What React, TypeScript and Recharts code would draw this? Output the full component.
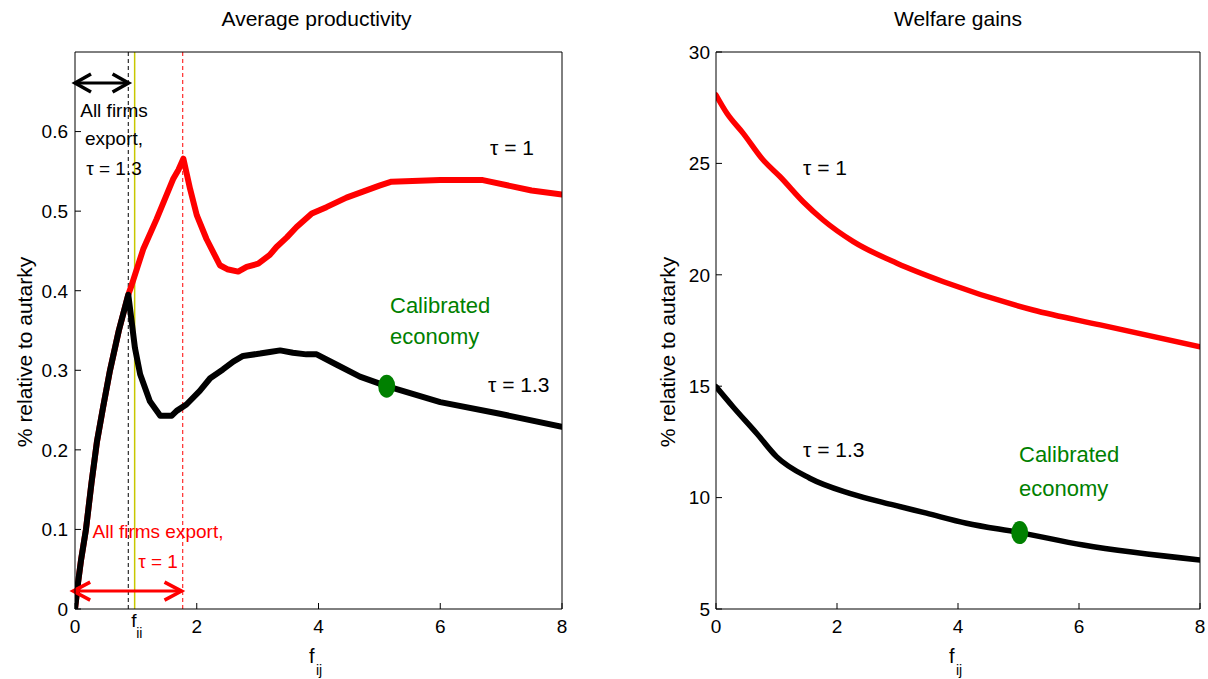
import React from 'react';
import { LineChart, Line, XAxis, YAxis, ReferenceLine, ReferenceDot } from 'recharts';

const FONT = '"Liberation Sans", Arial, Helvetica, sans-serif';
const GREEN = '#008000';

// ---------- Left panel: Average productivity ----------
const prodTau1X = [0, 0.05, 0.1, 0.18, 0.27, 0.36, 0.46, 0.575, 0.72, 0.875, 0.93, 1.12, 1.34, 1.61, 1.7, 1.78, 1.89, 2.0, 2.16, 2.38, 2.5, 2.68, 2.82, 3.01, 3.2, 3.31, 3.48, 3.64, 3.89, 4.13, 4.46, 5.0, 5.2, 6.0, 6.7, 7.5, 8.0];
const prodTau1Y = [0, 0.033, 0.062, 0.1, 0.158, 0.21, 0.253, 0.3, 0.35, 0.395, 0.407, 0.452, 0.49, 0.54, 0.552, 0.566, 0.528, 0.495, 0.465, 0.432, 0.427, 0.424, 0.43, 0.434, 0.445, 0.455, 0.467, 0.48, 0.497, 0.505, 0.517, 0.532, 0.537, 0.539, 0.539, 0.526, 0.521];
const prodTau13X = [0, 0.05, 0.1, 0.18, 0.27, 0.36, 0.46, 0.575, 0.72, 0.875, 0.985, 1.07, 1.23, 1.4, 1.59, 1.67, 1.83, 2.05, 2.22, 2.43, 2.6, 2.76, 3.04, 3.2, 3.37, 3.58, 3.8, 3.97, 4.3, 4.68, 5.12, 6.0, 7.0, 8.0];
const prodTau13Y = [0, 0.033, 0.062, 0.1, 0.158, 0.21, 0.253, 0.3, 0.35, 0.395, 0.328, 0.295, 0.261, 0.243, 0.243, 0.249, 0.257, 0.274, 0.29, 0.301, 0.311, 0.318, 0.321, 0.323, 0.325, 0.322, 0.32, 0.32, 0.307, 0.292, 0.28, 0.26, 0.245, 0.229];
const prodXTicks = [0, 2, 4, 6, 8];
const prodYTicks = [0, 0.1, 0.2, 0.3, 0.4, 0.5, 0.6];
const F_II = 0.98;
const ALL_EXPORT_TAU13 = 0.875;
const ALL_EXPORT_TAU1 = 1.77;
const prodCalibrated = { x: 5.12, y: 0.28 };
const blackArrowY = 0.661;
const redArrowY = 0.0225;

// ---------- Right panel: Welfare gains ----------
const welfTau1X = [0, 0.18, 0.45, 0.78, 1.06, 1.44, 1.77, 2.27, 2.99, 3.76, 5.24, 6.35, 8];
const welfTau1Y = [28.07, 27.25, 26.35, 25.15, 24.4, 23.28, 22.46, 21.49, 20.52, 19.69, 18.42, 17.75, 16.77];
const welfTau13X = [0, 0.28, 0.67, 1.0, 1.55, 2.21, 2.93, 3.48, 4.14, 5.02, 6.07, 8];
const welfTau13Y = [14.98, 14.08, 12.89, 11.84, 10.87, 10.19, 9.67, 9.3, 8.85, 8.43, 7.87, 7.2];
const welfXTicks = [0, 2, 4, 6, 8];
const welfYTicks = [5, 10, 15, 20, 25, 30];
const welfCalibrated = { x: 5.02, y: 8.43 };

const zip = (xs: number[], ys: number[]) => xs.map((x, i) => ({ x, y: ys[i] }));
const prodTau1 = zip(prodTau1X, prodTau1Y);
const prodTau13 = zip(prodTau13X, prodTau13Y);
const welfTau1 = zip(welfTau1X, welfTau1Y);
const welfTau13 = zip(welfTau13X, welfTau13Y);

const TICK_FS = 19;
const TICK_LEN = 6;

const BottomTick = (props: any) => {
  const { x, y, payload } = props;
  const m = 10;
  if (Math.abs(payload.value - F_II) < 1e-6) {
    return (
      <g>
        <text x={x - 3.5} y={y + 8} fontSize={19} fontFamily={FONT} fill="#000">f</text>
        <text x={x + 1.5} y={y + 19} fontSize={14} fontFamily={FONT} fill="#000">ii</text>
      </g>
    );
  }
  return (
    <g>
      <line x1={x} y1={y - m} x2={x} y2={y - m - TICK_LEN} stroke="#000" strokeWidth={1} />
      <text x={x} y={y + 14} textAnchor="middle" fontSize={TICK_FS} fontFamily={FONT} fill="#000">
        {payload.value}
      </text>
    </g>
  );
};

const makeLeftTick = (m: number) => (props: any) => {
  const { x, y, payload } = props;
  return (
    <g>
      <line x1={x + m} y1={y} x2={x + m + TICK_LEN} y2={y} stroke="#000" strokeWidth={1} />
      <text x={x} y={y} dy="0.36em" textAnchor="end" fontSize={TICK_FS} fontFamily={FONT} fill="#000">
        {payload.value}
      </text>
    </g>
  );
};

const makeArrow = (color: string, head: number, half: number) => (p: any) => {
  const { x1, y1, x2, y2 } = p;
  const l = Math.min(x1, x2);
  const r = Math.max(x1, x2);
  const y = y1;
  return (
    <g>
      <line x1={l} y1={y} x2={r} y2={y2} stroke={color} strokeWidth={3} />
      <polyline points={`${l + head},${y - half} ${l},${y} ${l + head},${y + half}`} fill="none" stroke={color} strokeWidth={3.5} strokeLinejoin="miter" />
      <polyline points={`${r - head},${y - half} ${r},${y} ${r - head},${y + half}`} fill="none" stroke={color} strokeWidth={3.5} strokeLinejoin="miter" />
    </g>
  );
};

const Ellipse = (p: any) => <ellipse cx={p.cx} cy={p.cy} rx={8.5} ry={11.5} fill={GREEN} />;

const LeftPanel = () => (
  <LineChart width={600} height={679} margin={{ top: 52, right: 38, bottom: 30, left: 15 }}>
    <XAxis dataKey="x" type="number" domain={[0, 8]} ticks={[0, F_II, 2, 4, 6, 8]} interval={0}
      tickLine={false} tickSize={0} tickMargin={10} height={40} stroke="#000" tick={BottomTick} allowDataOverflow />
    <XAxis xAxisId="top" orientation="top" dataKey="x" type="number" domain={[0, 8]} ticks={prodXTicks} interval={0}
      mirror tick={false} tickSize={TICK_LEN} height={1} stroke="#000" allowDataOverflow />
    <YAxis type="number" domain={[0, 0.7]} ticks={prodYTicks} interval={0} tickLine={false} tickSize={0}
      tickMargin={7} width={60} stroke="#000" tick={makeLeftTick(7)} allowDataOverflow />
    <YAxis yAxisId="right" orientation="right" type="number" domain={[0, 0.7]} ticks={prodYTicks} interval={0}
      mirror tick={false} tickSize={TICK_LEN} width={1} stroke="#000" allowDataOverflow />
    <ReferenceLine x={ALL_EXPORT_TAU13} stroke="#000" strokeDasharray="4 3" strokeWidth={1} />
    <ReferenceLine x={F_II} stroke="#c8c800" strokeWidth={1.5} />
    <ReferenceLine x={ALL_EXPORT_TAU1} stroke="#ff0000" strokeDasharray="4 3" strokeWidth={1} />
    <Line data={prodTau1} dataKey="y" type="linear" stroke="#ff0000" strokeWidth={6} dot={false}
      isAnimationActive={false} strokeLinejoin="round" strokeLinecap="round" />
    <Line data={prodTau13} dataKey="y" type="linear" stroke="#000" strokeWidth={6} dot={false}
      isAnimationActive={false} strokeLinejoin="round" strokeLinecap="round" />
    <ReferenceLine segment={[{ x: 0, y: blackArrowY }, { x: 0.88, y: blackArrowY }]} ifOverflow="visible"
      shape={makeArrow('#000', 16, 9)} />
    <ReferenceLine segment={[{ x: -0.03, y: redArrowY }, { x: 1.75, y: redArrowY }]} ifOverflow="visible"
      shape={makeArrow('#ff0000', 17, 9)} />
    <ReferenceDot x={prodCalibrated.x} y={prodCalibrated.y} r={9} shape={Ellipse} ifOverflow="visible" />
  </LineChart>
);

const RightPanel = () => (
  <LineChart width={568} height={679} margin={{ top: 52, right: 8, bottom: 30, left: 16 }}>
    <XAxis dataKey="x" type="number" domain={[0, 8]} ticks={welfXTicks} interval={0}
      tickLine={false} tickSize={0} tickMargin={10} height={40} stroke="#000" tick={BottomTick} allowDataOverflow />
    <XAxis xAxisId="top" orientation="top" dataKey="x" type="number" domain={[0, 8]} ticks={welfXTicks} interval={0}
      mirror tick={false} tickSize={TICK_LEN} height={1} stroke="#000" allowDataOverflow />
    <YAxis type="number" domain={[5, 30]} ticks={welfYTicks} interval={0} tickLine={false} tickSize={0}
      tickMargin={6} width={60} stroke="#000" tick={makeLeftTick(6)} allowDataOverflow />
    <YAxis yAxisId="right" orientation="right" type="number" domain={[5, 30]} ticks={welfYTicks} interval={0}
      mirror tick={false} tickSize={TICK_LEN} width={1} stroke="#000" allowDataOverflow />
    <Line data={welfTau1} dataKey="y" type="monotone" stroke="#ff0000" strokeWidth={5.5} dot={false}
      isAnimationActive={false} strokeLinejoin="round" strokeLinecap="round" />
    <Line data={welfTau13} dataKey="y" type="monotone" stroke="#000" strokeWidth={5.5} dot={false}
      isAnimationActive={false} strokeLinejoin="round" strokeLinecap="round" />
    <ReferenceDot x={welfCalibrated.x} y={welfCalibrated.y} r={9} shape={Ellipse} ifOverflow="visible" />
  </LineChart>
);

const T = (p: any) => (
  <text fontFamily={FONT} fill={p.fill || '#000'} fontSize={p.fs} x={p.x} y={p.y}
    textAnchor={p.anchor || 'start'} transform={p.transform}>
    {p.children}
  </text>
);

const Overlay = () => (
  <svg width={1208} height={679} style={{ position: 'absolute', left: 0, top: 0, pointerEvents: 'none' }}>
    {/* Left panel texts */}
    <T x={316.5} y={26} fs={21} anchor="middle">Average productivity</T>
    <T x={0} y={0} fs={21} anchor="middle" transform="translate(32,352) rotate(-90)">% relative to autarky</T>
    <T x={309} y={663} fs={20}>f</T>
    <T x={316} y={675} fs={14}>ij</T>
    <T x={490} y={155} fs={21}>τ = 1</T>
    <T x={390} y={313} fs={22} fill={GREEN}>Calibrated</T>
    <T x={390} y={344} fs={22} fill={GREEN}>economy</T>
    <T x={488} y={392} fs={21}>τ = 1.3</T>
    <T x={114} y={117} fs={19} anchor="middle">All firms</T>
    <T x={114} y={145} fs={19} anchor="middle">export,</T>
    <T x={114} y={175} fs={19} anchor="middle">τ = 1.3</T>
    <T x={158} y={538} fs={19} anchor="middle" fill="#ff0000">All firms export,</T>
    <T x={158} y={568} fs={19} anchor="middle" fill="#ff0000">τ = 1</T>

    {/* Right panel texts */}
    <T x={958} y={26} fs={21} anchor="middle">Welfare gains</T>
    <T x={0} y={0} fs={21} anchor="middle" transform="translate(675,352) rotate(-90)">% relative to autarky</T>
    <T x={949} y={663} fs={20}>f</T>
    <T x={956} y={675} fs={14}>ij</T>
    <T x={803} y={175} fs={21}>τ = 1</T>
    <T x={803} y={457} fs={21}>τ = 1.3</T>
    <T x={1019} y={462} fs={22} fill={GREEN}>Calibrated</T>
    <T x={1019} y={496} fs={22} fill={GREEN}>economy</T>
  </svg>
);

export default function App() {
  return (
    <div style={{ position: 'absolute', left: 0, top: 0, width: 1208, height: 679, background: '#fff', fontFamily: FONT }}>
      <div style={{ position: 'absolute', left: 0, top: 0 }}>
        <LeftPanel />
      </div>
      <div style={{ position: 'absolute', left: 640, top: 0 }}>
        <RightPanel />
      </div>
      <Overlay />
    </div>
  );
}
